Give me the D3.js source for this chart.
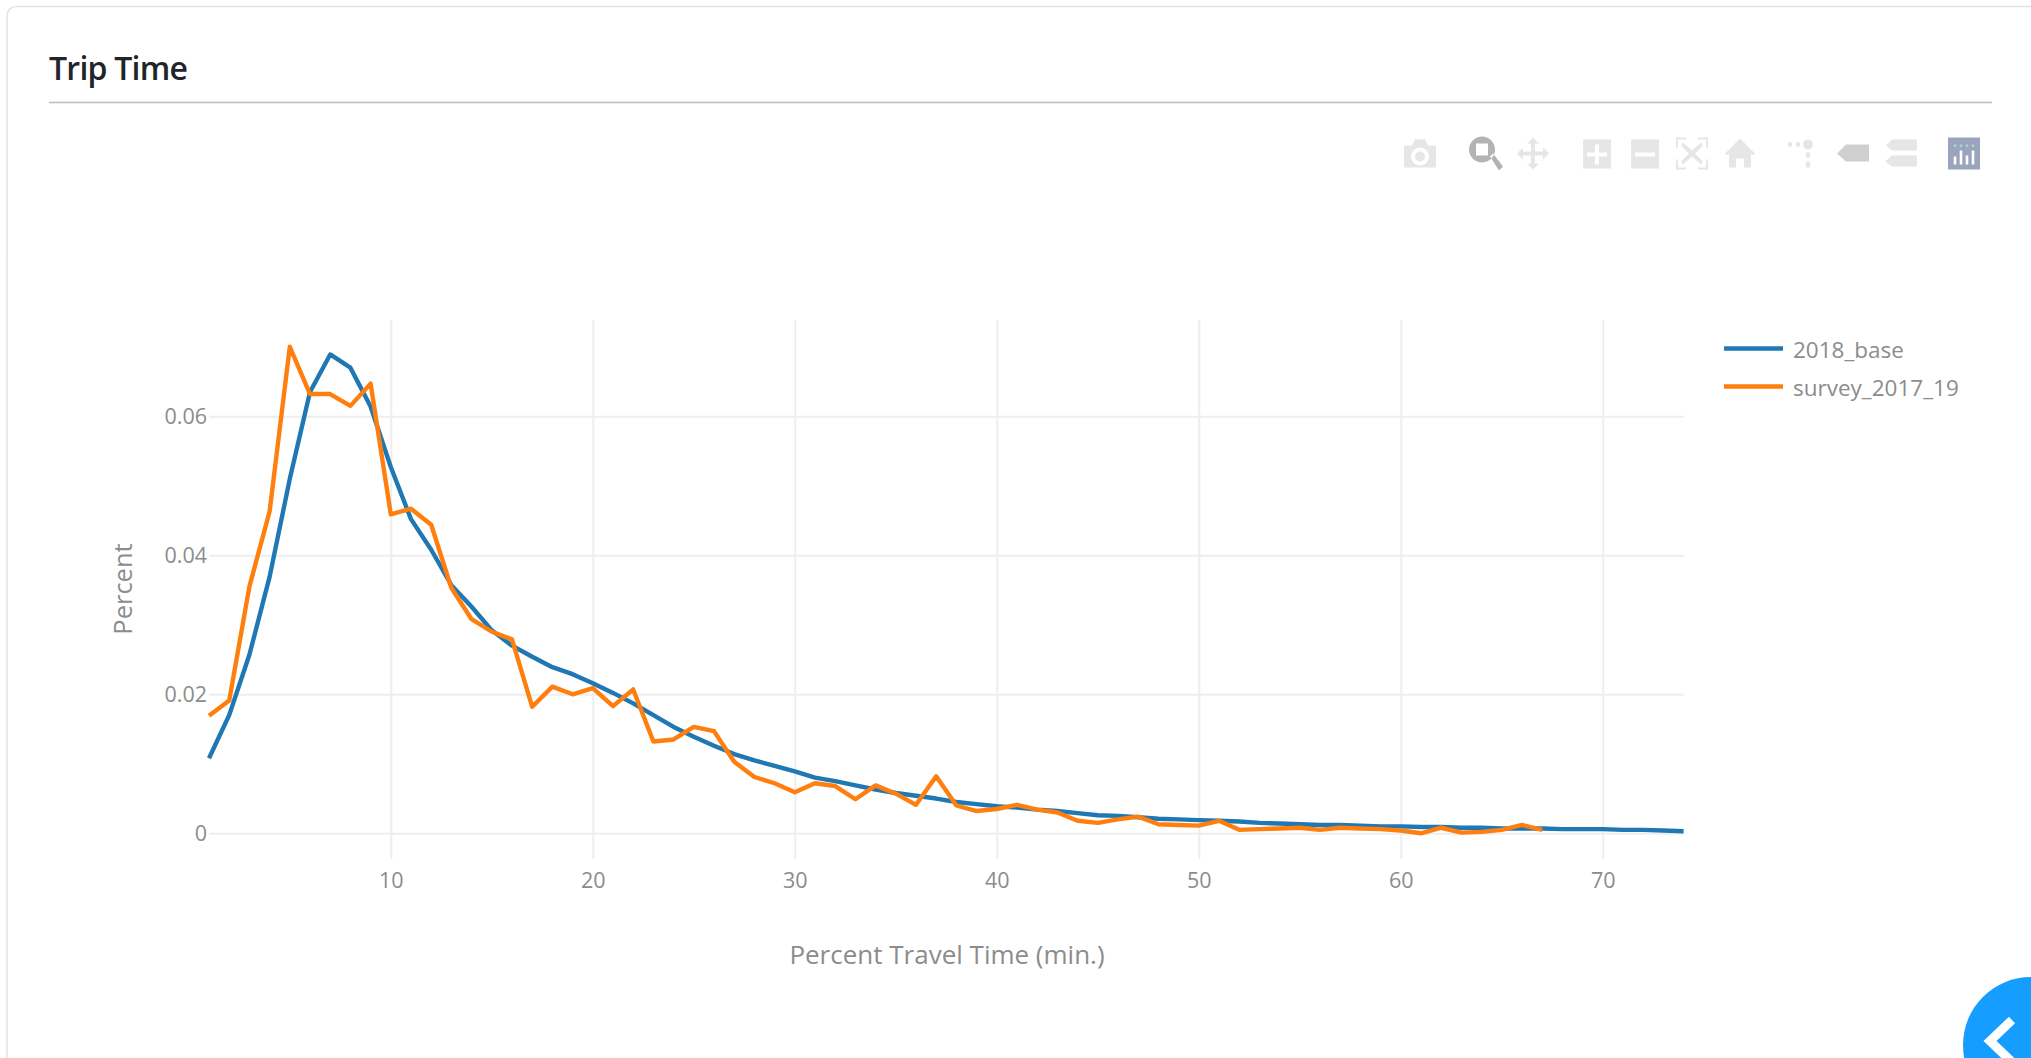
<!DOCTYPE html>
<html>
<head>
<meta charset="utf-8">
<script src="https://cdnjs.cloudflare.com/ajax/libs/d3/7.8.5/d3.min.js"></script>
<style>
html,body{margin:0;padding:0;background:#fff;overflow:hidden}
svg{display:block}
text{font-family:"Open Sans",sans-serif}
</style>
</head>
<body>
<svg id="c" width="2031" height="1058"></svg>
<script>
const baseMinutes = d3.range(1, 75);
const surveyMinutes = d3.range(1, 68);
const base2018 = [.0108,.0170,.0257,.0369,.0510,.0635,.0689,.0670,.0614,.0527,.0452,.0408,.0357,.0326,.0292,.0270,.0254,.0239,.0229,.0216,.0202,.0187,.0170,.0153,.0139,.0126,.0114,.0105,.0097,.0089,.0080,.0075,.0069,.0063,.0058,.0054,.0050,.0045,.0042,.0039,.0037,.0034,.0032,.0029,.0026,.0025,.0023,.0021,.0020,.0019,.0018,.0017,.0015,.0014,.0013,.0012,.0012,.0011,.0010,.0010,.0009,.0009,.0008,.0008,.0007,.0007,.0007,.0006,.0006,.0006,.0005,.0005,.0004,.0003];
const survey201719 = [.0169,.0191,.0355,.0463,.0700,.0632,.0632,.0615,.0647,.0459,.0467,.0444,.0353,.0308,.0290,.0279,.0182,.0211,.0200,.0209,.0183,.0207,.0132,.0135,.0153,.0147,.0103,.0081,.0072,.0059,.0072,.0068,.0049,.0069,.0057,.0041,.0082,.0040,.0032,.0035,.0041,.0034,.0030,.0018,.0015,.0020,.0024,.0013,.0012,.0011,.0018,.0005,.0006,.0007,.0008,.0005,.0008,.0007,.0006,.0004,.0000,.0008,.0001,.0002,.0005,.0012,.0005];
const seriesNames = ["2018_base","survey_2017_19"];
const seriesColors = ["#1f77b4","#ff7f0e"];
const xTicks = [10,20,30,40,50,60,70];
const yTicks = [0,.02,.04,.06];
const chartTitle = "Trip Time";
const xTitle = "Percent Travel Time (min.)";
const yTitle = "Percent";

const svg = d3.select("#c");
const textCol = "#8c8c8c", gridCol = "#eeeeee";

// card
svg.append("rect").attr("x",7).attr("y",6.5).attr("width",2100).attr("height",1200).attr("rx",9)
  .attr("fill","#fff").attr("stroke","#e4e4e4").attr("stroke-width",1.5);
svg.append("text").attr("x",49).attr("y",80).attr("font-size",32).attr("fill","#212529")
  .attr("font-family","'Noto Sans',sans-serif").attr("font-weight",600).attr("textLength",139).text(chartTitle);
svg.append("line").attr("x1",49).attr("x2",1992).attr("y1",102.5).attr("y2",102.5).attr("stroke","#bdbdbd").attr("stroke-width",1.5);

// scales
const x = d3.scaleLinear().domain([1,74]).range([209,1683.6]);
const y = d3.scaleLinear().domain([0,.07]).range([833.3,346.8]);
const plotTop = 320, plotBottom = 859, plotLeft = 209, plotRight = 1684;

// grid + axes through d3 axes
const gx = svg.append("g").attr("transform",`translate(0,${plotBottom})`)
  .call(d3.axisBottom(x).tickValues(xTicks).tickSize(-(plotBottom-plotTop)).tickPadding(14).tickFormat(d3.format("d")));
const gy = svg.append("g").attr("transform",`translate(${plotLeft},0)`)
  .call(d3.axisLeft(y).tickValues(yTicks).tickSize(-(plotRight-plotLeft)).tickPadding(2)
    .tickFormat(d => d === 0 ? "0" : d3.format(".2f")(d)));
[gx,gy].forEach(g=>{
  g.select(".domain").remove();
  g.selectAll("line").attr("stroke",gridCol).attr("stroke-width",2);
  g.selectAll("text").attr("fill",textCol).attr("font-size",21.5).attr("font-family","'Open Sans',sans-serif");
});

// series
const line = d3.line().x(d=>x(d[0])).y(d=>y(d[1]));
const pairs = [d3.zip(baseMinutes,base2018), d3.zip(surveyMinutes,survey201719)];
pairs.forEach((p,i)=>{
  svg.append("path").attr("d",line(p)).attr("fill","none").attr("stroke",seriesColors[i])
    .attr("stroke-width",4.4).attr("stroke-linejoin","round");
});

// axis titles
svg.append("text").attr("x",947).attr("y",964).attr("text-anchor","middle").attr("font-size",26).attr("fill",textCol).text(xTitle);
svg.append("text").attr("transform","translate(132,589) rotate(-90)").attr("text-anchor","middle").attr("font-size",25.5).attr("fill",textCol).text(yTitle);

// legend
seriesNames.forEach((n,i)=>{
  const ly = 348.5 + i*38;
  svg.append("line").attr("x1",1724).attr("x2",1783).attr("y1",ly).attr("y2",ly).attr("stroke",seriesColors[i]).attr("stroke-width",4.4);
  svg.append("text").attr("x",1793).attr("y",ly+9).attr("font-size",22.5).attr("fill",textCol).text(n);
});

// modebar icons (32 box, centred)
const light = "#e6e6e6";
const icons = [
 [1420,light,"M-16,-8 h8 l3,-6 h10 l3,6 h8 v22 h-32 z M0,-6 a9,9 0 1,0 .01,0 z M0,-2 a5,5 0 1,1 -.01,0 z"],
 [1485,"#b3b3b3","M-3,-17 a13,13 0 1,0 .01,0 z M-9,-10 h12 v12 h-12 z M5,3 l3,-3 l10,13 l-4,4 z"],
 [1533,light,"M0,-16 l6,6 h-4 v8 h8 v-4 l6,6 l-6,6 v-4 h-8 v8 h4 l-6,6 l-6,-6 h4 v-8 h-8 v4 l-6,-6 l6,-6 v4 h8 v-8 h-4 z"],
 [1597,light,"M-14,-14 h28 v29 h-28 z M-2,-9 v8 h-8 v4 h8 v8 h4 v-8 h8 v-4 h-8 v-8 z"],
 [1645,light,"M-14,-14 h28 v29 h-28 z M-10,-1 v4 h20 v-4 z"],
 [1692,light,"M-16,-16 h10 v2 h-8 v8 h-2 z M16,-16 h-10 v2 h8 v8 h2 z M-16,16 h10 v-2 h-8 v-8 h-2 z M16,16 h-10 v-2 h8 v-8 h2 z M-9,-11 l9,8 l9,-8 l2,3 l-8,8 l8,8 l-2,3 l-9,-8 l-9,8 l-2,-3 l8,-8 l-8,-8 z"],
 [1740,light,"M0,-15 l15,15 l-2,2 l-2,-2 v14 h-7 v-9 h-8 v9 h-7 v-14 l-2,2 l-2,-2 z"],
 [1801,light,"M7,-14 a5,5 0 1,1 -.01,0 z M-13,-11 h4 v4 h-4 z M-5,-11 h4 v4 h-4 z M5,-1 h4 v5 h-4 z M5,8 h4 v6 h-4 z"],
 [1853,"#cfcfcf","M-16,0 l9,-9 h23 v17 h-23 z"],
 [1901,light,"M-9,-14 h25 v11 h-25 l-6,-5 z M-9,2 h25 v11 h-25 l-7,-5 z"]
];
const ig = svg.append("g");
icons.forEach(d=>ig.append("path").attr("transform",`translate(${d[0]},153.5)`).attr("d",d[2]).attr("fill",d[1]).attr("fill-rule","evenodd"));
const dash = svg.append("g").attr("transform","translate(1964,153.5)");
dash.append("rect").attr("x",-16).attr("y",-16).attr("width",32).attr("height",32).attr("fill","#9aa5bd");
[-9,-3,3,9].forEach((dx,i)=>{
  const h=[8,14,9,14][i];
  dash.append("rect").attr("x",dx-1.3).attr("y",11-h).attr("width",2.6).attr("height",h).attr("fill","#fff");
  dash.append("rect").attr("x",dx-1.2).attr("y",-9).attr("width",2.4).attr("height",2.4).attr("fill","#a8dcc8");
});

// floating button
svg.append("circle").attr("cx",2031).attr("cy",1045).attr("r",68).attr("fill","#159dff");
svg.append("path").attr("d","M2012,1020 L1990,1041 L2012,1062").attr("fill","none").attr("stroke","#fff").attr("stroke-width",9);
</script>
</body>
</html>
